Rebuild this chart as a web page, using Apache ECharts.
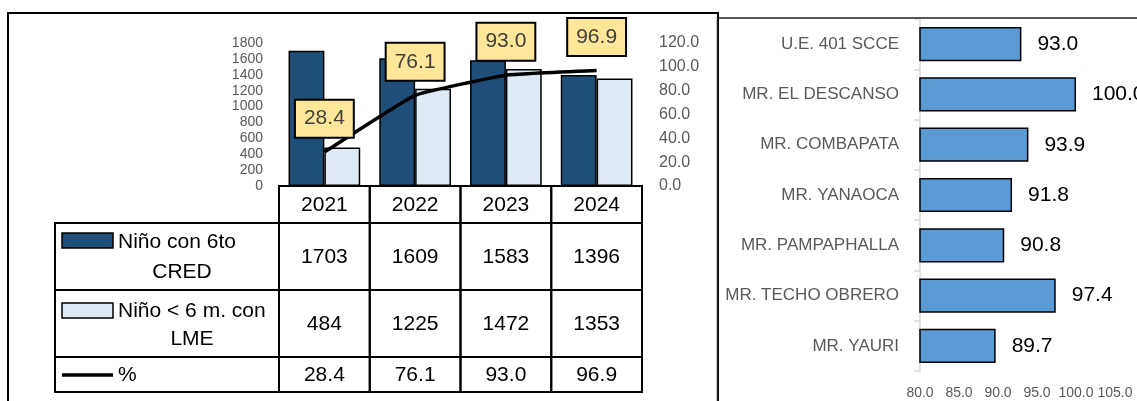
<!DOCTYPE html>
<html><head><meta charset="utf-8">
<script src="https://cdn.jsdelivr.net/npm/echarts@6/dist/echarts.min.js"></script>
<style>html,body{margin:0;padding:0;background:#fff}#c{width:1137px;height:401px}</style>
</head><body><div id="c"></div>
<script>
// ---- data ----
const years = ['2021', '2022', '2023', '2024'];
const cred = [1703, 1609, 1583, 1396];
const lme = [484, 1225, 1472, 1353];
const pct = [28.4, 76.1, 93.0, 96.9];
const seriesNames = ['Niño con 6to CRED', 'Niño < 6 m. con LME', '%'];
const countTicks = [0, 200, 400, 600, 800, 1000, 1200, 1400, 1600, 1800];
const pctTicks = [0, 20, 40, 60, 80, 100, 120];
const units = ['U.E. 401 SCCE', 'MR. EL DESCANSO', 'MR. COMBAPATA', 'MR. YANAOCA', 'MR. PAMPAPHALLA', 'MR. TECHO OBRERO', 'MR. YAURI'];
const unitPct = [93.0, 100.0, 93.9, 91.8, 90.8, 97.4, 89.7];
const unitTicks = [80, 85, 90, 95, 100, 105];

// ---- style / layout ----
const FONT = "'Liberation Sans', Arial, sans-serif";
const DARK = '#1F4E79', LIGHT = '#DEEBF7', BLUE = '#5B9BD5', GRAY = '#595959';
const ROW_H = [37, 67, 67, 35];
const TABLE_LEFT = 55;

function renderTable(params, api) {
  const i = api.value(0);
  const c = api.coord([i, 0]);
  const w = api.size([1, 0])[0];
  const x0 = c[0] - w / 2;
  let y = c[1];
  const children = [];
  const texts = [years[i], String(cred[i]), String(lme[i]), pct[i].toFixed(1)];
  const rowTops = [];
  for (let r = 0; r < 4; r++) {
    rowTops.push(y);
    children.push({ type: 'rect', shape: { x: x0, y: y, width: w, height: ROW_H[r] },
      style: { fill: 'transparent', stroke: '#000', lineWidth: 2 } });
    children.push({ type: 'text', style: { x: x0 + w / 2, y: y + ROW_H[r] / 2 + 1, text: texts[r],
      align: 'center', verticalAlign: 'middle', font: '21px ' + FONT, fill: '#000' } });
    y += ROW_H[r];
  }
  if (i === 0) {
    const hw = x0 - TABLE_LEFT;
    for (let r = 1; r < 4; r++) {
      children.push({ type: 'rect', shape: { x: TABLE_LEFT, y: rowTops[r], width: hw, height: ROW_H[r] },
        style: { fill: 'transparent', stroke: '#000', lineWidth: 2 } });
    }
    let t = rowTops[1];
    children.push({ type: 'rect', shape: { x: TABLE_LEFT + 7, y: t + 10, width: 51, height: 15 },
      style: { fill: DARK, stroke: '#000', lineWidth: 1.5 } });
    children.push({ type: 'text', style: { x: TABLE_LEFT + 63, y: t + 19, text: 'Niño con 6to',
      align: 'left', verticalAlign: 'middle', font: '21px ' + FONT, fill: '#000' } });
    children.push({ type: 'text', style: { x: TABLE_LEFT + 127, y: t + 49, text: 'CRED',
      align: 'center', verticalAlign: 'middle', font: '21px ' + FONT, fill: '#000' } });
    t = rowTops[2];
    children.push({ type: 'rect', shape: { x: TABLE_LEFT + 7, y: t + 13, width: 51, height: 15 },
      style: { fill: LIGHT, stroke: '#000', lineWidth: 1.5 } });
    children.push({ type: 'text', style: { x: TABLE_LEFT + 63, y: t + 21, text: 'Niño < 6 m. con',
      align: 'left', verticalAlign: 'middle', font: '21px ' + FONT, fill: '#000' } });
    children.push({ type: 'text', style: { x: TABLE_LEFT + 137, y: t + 49, text: 'LME',
      align: 'center', verticalAlign: 'middle', font: '21px ' + FONT, fill: '#000' } });
    t = rowTops[3];
    children.push({ type: 'line', shape: { x1: TABLE_LEFT + 7, y1: t + 18, x2: TABLE_LEFT + 58, y2: t + 18 },
      style: { stroke: '#000', lineWidth: 3.5 } });
    children.push({ type: 'text', style: { x: TABLE_LEFT + 63, y: t + 18, text: '%',
      align: 'left', verticalAlign: 'middle', font: '21px ' + FONT, fill: '#000' } });
  }
  return { type: 'group', children: children };
}

const chart = echarts.init(document.getElementById('c'), null, { renderer: 'canvas' });
const option = {
  animation: false,
  backgroundColor: '#fff',
  textStyle: { fontFamily: FONT },
  graphic: [
    { type: 'rect', shape: { x: 8, y: 13, width: 710, height: 400 }, style: { fill: 'none', stroke: '#000', lineWidth: 2 }, z: 100 },
    { type: 'rect', shape: { x: 717.5, y: 18, width: 440, height: 400 }, style: { fill: 'none', stroke: '#222', lineWidth: 1.5 }, z: 100 }
  ],
  grid: [
    { left: 279, right: 1137 - 642, top: 43, bottom: 401 - 186, containLabel: false },
    { left: 920, right: 1137 - 1115, top: 19, bottom: 401 - 371, containLabel: false }
  ],
  xAxis: [
    { type: 'category', gridIndex: 0, data: years, axisLine: { show: false }, axisTick: { show: false }, axisLabel: { show: false } },
    { type: 'value', gridIndex: 1, min: unitTicks[0], max: unitTicks[unitTicks.length - 1], interval: unitTicks[1] - unitTicks[0],
      splitLine: { show: false }, axisLine: { show: false }, axisTick: { show: false },
      axisLabel: { color: GRAY, fontSize: 14, margin: 15, formatter: v => v.toFixed(1) } }
  ],
  yAxis: [
    { type: 'value', gridIndex: 0, min: countTicks[0], max: countTicks[countTicks.length - 1], interval: countTicks[1] - countTicks[0],
      splitLine: { show: false }, axisLine: { show: false }, axisTick: { show: false },
      axisLabel: { color: GRAY, fontSize: 14, margin: 16, formatter: v => String(v) } },
    { type: 'value', gridIndex: 0, position: 'right', min: pctTicks[0], max: pctTicks[pctTicks.length - 1], interval: pctTicks[1] - pctTicks[0],
      splitLine: { show: false }, axisLine: { show: false }, axisTick: { show: false },
      axisLabel: { color: GRAY, fontSize: 16, margin: 17, formatter: v => v.toFixed(1) } },
    { type: 'category', gridIndex: 1, data: units, inverse: true,
      axisLine: { show: true, lineStyle: { color: '#D9D9D9', width: 1.5 } },
      axisTick: { show: true, length: 6, lineStyle: { color: '#D9D9D9', width: 1.5 } },
      axisLabel: { color: GRAY, fontSize: 17, margin: 21 } }
  ],
  series: [
    { name: seriesNames[0], type: 'bar', xAxisIndex: 0, yAxisIndex: 0, data: cred,
      barGap: '0%', barCategoryGap: '21%',
      itemStyle: { color: DARK, borderColor: '#000', borderWidth: 1.5 } },
    { name: seriesNames[1], type: 'bar', xAxisIndex: 0, yAxisIndex: 0, data: lme,
      barGap: '0%', barCategoryGap: '21%',
      itemStyle: { color: LIGHT, borderColor: '#000', borderWidth: 1.5 } },
    { name: seriesNames[2], type: 'line', xAxisIndex: 0, yAxisIndex: 1, data: pct,
      smooth: 0.1, symbol: 'circle', symbolSize: 1, showSymbol: true, showAllSymbol: true,
      itemStyle: { color: '#000', opacity: 0 },
      lineStyle: { color: '#000', width: 3.5 }, z: 5,
      label: { show: true, position: 'top', distance: 15, formatter: p => p.value.toFixed(1),
        backgroundColor: '#FFE699', borderColor: '#000', borderWidth: 2, padding: [7, 8, 7, 8],
        fontSize: 21, lineHeight: 22, color: '#404040', opacity: 1 },
      labelLayout: { hideOverlap: false } },
    { type: 'custom', xAxisIndex: 0, yAxisIndex: 0, data: years.map((y, i) => [i]),
      renderItem: renderTable, clip: false, z: 3, silent: true },
    { type: 'bar', xAxisIndex: 1, yAxisIndex: 2, data: unitPct, barCategoryGap: '32%',
      itemStyle: { color: BLUE, borderColor: '#000', borderWidth: 1.5 },
      label: { show: true, position: 'right', distance: 16, fontSize: 21, color: '#000',
        formatter: p => p.value.toFixed(1) } }
  ]
};
chart.setOption(option);
</script>
</body></html>
